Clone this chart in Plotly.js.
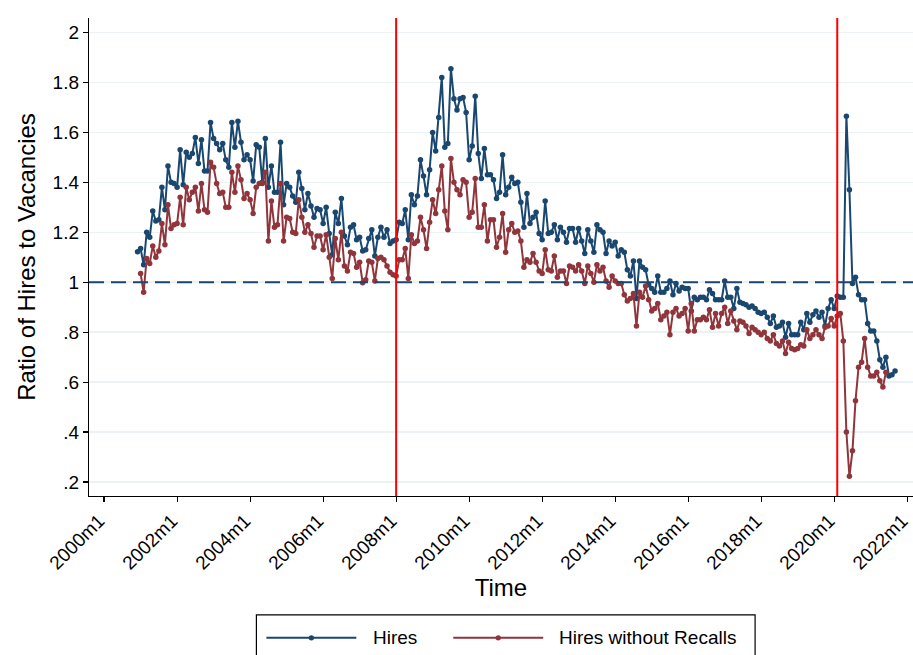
<!DOCTYPE html>
<html><head><meta charset="utf-8">
<script src="https://cdn.plot.ly/plotly-3.0.1.min.js"></script>
<style>html,body{margin:0;padding:0;background:#fff}#chart{width:913px;height:655px}</style>
</head><body><div id="chart"></div>
<script>
// ---- data ----
const hiresStart = '2000m12';
const noRecallsStart = '2001m1';
const hires = [
1.122,1.135,1.07,1.20,1.18,1.285,1.245,1.25,1.38,1.29,
1.465,1.40,1.395,1.38,1.53,1.39,1.52,1.50,1.515,1.58,
1.475,1.57,1.445,1.445,1.64,1.575,1.555,1.53,1.555,1.49,
1.46,1.64,1.54,1.645,1.56,1.49,1.51,1.49,1.405,1.55,
1.54,1.40,1.575,1.38,1.465,1.36,1.36,1.56,1.31,1.395,
1.38,1.345,1.32,1.44,1.375,1.29,1.355,1.305,1.26,1.295,
1.29,1.235,1.30,1.195,1.11,1.28,1.235,1.335,1.185,1.15,
1.22,1.23,1.17,1.18,1.125,1.13,1.175,1.21,1.105,1.18,
1.22,1.18,1.21,1.155,1.165,1.17,1.24,1.235,1.29,1.17,
1.35,1.31,1.345,1.49,1.425,1.35,1.45,1.60,1.525,1.66,
1.82,1.54,1.555,1.855,1.735,1.69,1.735,1.74,1.68,1.49,
1.545,1.745,1.515,1.415,1.535,1.43,1.43,1.41,1.335,1.36,
1.51,1.35,1.38,1.42,1.395,1.40,1.32,1.22,1.355,1.235,
1.26,1.28,1.195,1.17,1.325,1.195,1.20,1.23,1.17,1.22,
1.20,1.16,1.215,1.215,1.16,1.215,1.165,1.115,1.21,1.165,
1.12,1.23,1.21,1.20,1.115,1.165,1.145,1.16,1.105,1.13,
1.12,1.05,1.025,1.085,0.935,1.085,1.06,1.05,0.99,0.975,
0.96,1.025,0.96,0.96,0.975,1.005,0.95,0.995,0.965,0.98,
0.975,0.975,0.885,0.94,0.93,0.94,0.94,0.93,0.97,0.955,
0.93,0.93,0.93,1.005,0.94,0.94,0.895,0.975,0.92,0.915,
0.91,0.90,0.905,0.895,0.88,0.875,0.88,0.86,0.835,0.865,
0.82,0.825,0.84,0.78,0.835,0.79,0.79,0.79,0.84,0.81,
0.875,0.84,0.87,0.885,0.86,0.88,0.825,0.895,0.93,0.895,
0.945,0.94,0.94,1.665,1.37,0.995,1.02,0.95,0.93,0.93,
0.835,0.805,0.805,0.765,0.69,0.66,0.70,0.625,0.63,0.645
];
const hiresNoRecalls = [
1.035,0.96,1.095,1.075,1.145,1.10,1.125,1.235,1.15,1.31,
1.215,1.23,1.235,1.34,1.23,1.38,1.33,1.36,1.38,1.285,
1.395,1.29,1.28,1.48,1.46,1.395,1.355,1.36,1.30,1.30,
1.44,1.36,1.465,1.41,1.335,1.355,1.33,1.275,1.38,1.395,
1.395,1.44,1.165,1.325,1.22,1.23,1.395,1.165,1.26,1.255,
1.20,1.195,1.33,1.26,1.20,1.23,1.195,1.14,1.185,1.185,
1.13,1.19,1.10,1.015,1.175,1.09,1.20,1.065,1.045,1.12,
1.115,1.06,1.08,0.998,1.01,1.085,1.08,1.005,1.095,1.10,
1.09,1.065,1.04,1.03,1.025,1.09,1.09,1.135,1.015,1.19,
1.155,1.165,1.26,1.21,1.135,1.24,1.33,1.275,1.37,1.465,
1.285,1.21,1.495,1.40,1.37,1.35,1.41,1.40,1.26,1.28,
1.415,1.22,1.22,1.31,1.165,1.25,1.25,1.14,1.18,1.275,
1.12,1.21,1.235,1.20,1.205,1.165,1.06,1.09,1.08,1.115,
1.08,1.045,1.035,1.13,1.05,1.045,1.105,1.02,1.045,1.045,
0.995,1.065,1.06,1.045,1.07,1.045,0.995,1.065,1.035,1.00,
1.07,1.045,1.06,1.005,0.98,1.025,1.005,0.995,0.995,0.95,
0.925,0.935,0.955,0.825,0.96,0.94,0.985,0.93,0.885,0.895,
0.915,0.85,0.865,0.88,0.79,0.88,0.895,0.865,0.875,0.895,
0.805,0.915,0.805,0.85,0.85,0.86,0.85,0.89,0.82,0.875,
0.825,0.875,0.90,0.835,0.885,0.845,0.81,0.845,0.84,0.825,
0.795,0.82,0.81,0.80,0.79,0.80,0.775,0.765,0.79,0.755,
0.745,0.765,0.715,0.76,0.735,0.73,0.735,0.75,0.745,0.81,
0.775,0.79,0.81,0.79,0.775,0.82,0.825,0.855,0.825,0.865,
0.875,0.765,0.40,0.223,0.325,0.525,0.66,0.68,0.775,0.66,
0.625,0.625,0.64,0.605,0.58,0.64
];
const recessionStarts = ['2008m1', '2020m2'];
const referenceLevel = 1;
const xTickLabels = ['2000m1','2002m1','2004m1','2006m1','2008m1','2010m1','2012m1','2014m1','2016m1','2018m1','2020m1','2022m1'];
const yTickVals = [0.2,0.4,0.6,0.8,1,1.2,1.4,1.6,1.8,2];
const yTickText = ['.2','.4','.6','.8','1','1.2','1.4','1.6','1.8','2'];
const seriesNames = ['Hires', 'Hires without Recalls'];

// ---- helpers ----
function mIndex(s){ const p = s.split('m'); return (parseInt(p[0],10)-2000)*12 + (parseInt(p[1],10)-1); }
function xs(start, n){ const s = mIndex(start); return Array.from({length:n}, (_, i) => s + i); }
function label(i){ return (2000 + Math.floor(i/12)) + 'm' + (i%12 + 1); }

const NAVY = '#1a476f', MAROON = '#90353b';
const FONT = 'Arial, "Liberation Sans", sans-serif';

const hx = xs(hiresStart, hires.length);
const rx = xs(noRecallsStart, hiresNoRecalls.length);

const traces = [
  {x: hx, y: hires, type:'scatter', mode:'lines+markers', name: seriesNames[0],
   text: hx.map(label), hovertemplate:'%{text}: %{y}<extra></extra>',
   line:{color:NAVY, width:2}, marker:{color:NAVY, size:5.5}},
  {x: rx, y: hiresNoRecalls, type:'scatter', mode:'lines+markers', name: seriesNames[1],
   text: rx.map(label), hovertemplate:'%{text}: %{y}<extra></extra>',
   line:{color:MAROON, width:2}, marker:{color:MAROON, size:5.5}}
];

const shapes = [
  {type:'line', xref:'paper', yref:'y', x0:0, x1:1, y0:referenceLevel, y1:referenceLevel,
   line:{color:NAVY, width:2, dash:'15px,7px'}, layer:'above'}
];
recessionStarts.forEach(r => shapes.push({type:'line', xref:'x', yref:'paper', x0:mIndex(r), x1:mIndex(r), y0:0, y1:1,
   line:{color:'#ff0000', width:2}}));

// custom Stata-like legend (paper coordinates)
const L = 88.5, R = 913, T = 17.5, B = 496;
const px = v => (v - L) / (R - L);
const py = v => (B - v) / (B - T);
shapes.push({type:'rect', xref:'paper', yref:'paper', x0:px(256), x1:px(755), y0:py(615), y1:py(668),
   line:{color:'#000', width:1.2}, fillcolor:'rgba(0,0,0,0)'});
const legendY = 638;
[[266,356,NAVY],[453,543,MAROON]].forEach(([a,b,c]) => {
  shapes.push({type:'line', xref:'paper', yref:'paper', x0:px(a), x1:px(b), y0:py(legendY), y1:py(legendY), line:{color:c, width:2}});
  const m = (a+b)/2;
  shapes.push({type:'circle', xref:'paper', yref:'paper', x0:px(m-2.7), x1:px(m+2.7), y0:py(legendY+2.7), y1:py(legendY-2.7),
     line:{color:c, width:0}, fillcolor:c});
});
const annotations = [
  {xref:'paper', yref:'paper', x:px(371), y:py(legendY), xanchor:'left', yanchor:'middle', showarrow:false,
   text: seriesNames[0], font:{family:FONT, size:19, color:'#000'}},
  {xref:'paper', yref:'paper', x:px(557), y:py(legendY), xanchor:'left', yanchor:'middle', showarrow:false,
   text: seriesNames[1], font:{family:FONT, size:19, color:'#000'}}
];

const layout = {
  width:913, height:655,
  margin:{l:88.5, r:0, t:17.5, b:159},
  paper_bgcolor:'#ffffff', plot_bgcolor:'#ffffff',
  showlegend:false,
  font:{family:FONT, color:'#000'},
  xaxis:{
    range:[-4.96, 265.9],
    tickvals: xTickLabels.map(mIndex), ticktext: xTickLabels,
    tickangle:-45, tickfont:{size:19, family:FONT, color:'#000'},
    ticklabeloverflow:'allow', ticklabelshift:-5,
    ticks:'outside', ticklen:5, tickwidth:1.2, tickcolor:'#000',
    showline:true, linecolor:'#000', linewidth:1.2,
    showgrid:false, zeroline:false,
    title:{text:'Time', font:{size:24, family:FONT, color:'#000'}, standoff:4}
  },
  yaxis:{
    range:[0.144, 2.058],
    tickvals: yTickVals, ticktext: yTickText,
    tickfont:{size:19, family:FONT, color:'#000'},
    ticks:'outside', ticklen:5, tickwidth:1.2, tickcolor:'#000',
    showline:true, linecolor:'#000', linewidth:1.2,
    showgrid:true, gridcolor:'#eaf2f3', gridwidth:1.5, zeroline:false,
    title:{text:'Ratio of Hires to Vacancies', font:{size:24, family:FONT, color:'#000'}, standoff:10}
  },
  shapes: shapes,
  annotations: annotations
};

Plotly.newPlot('chart', traces, layout, {displayModeBar:false, staticPlot:true});
</script>
</body></html>
